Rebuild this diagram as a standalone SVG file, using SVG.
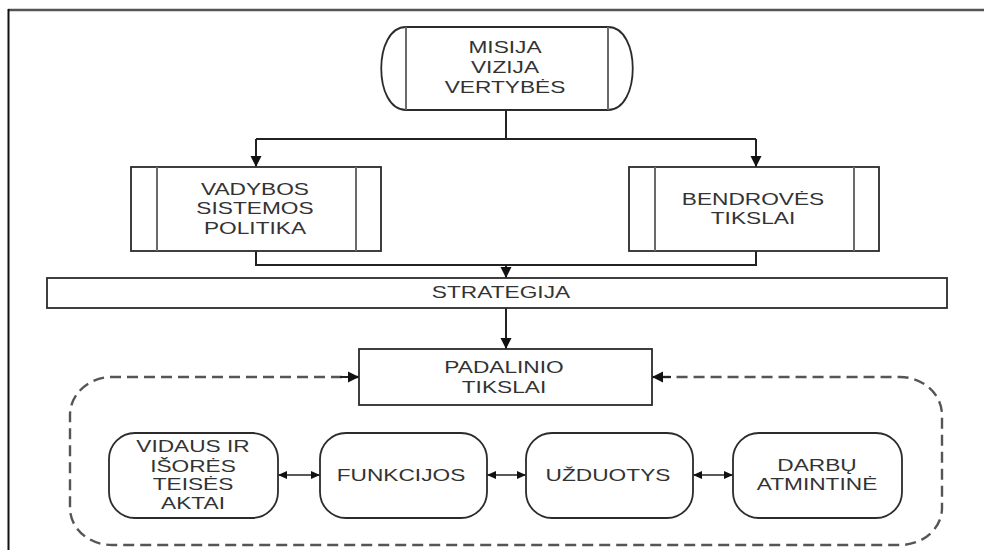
<svg xmlns="http://www.w3.org/2000/svg" width="984" height="550" viewBox="0 0 984 550">
  <style>
    .box { fill: #ffffff; stroke: #2b2b2b; stroke-width: 1.8; }
    .inner { stroke: #6a6a6a; stroke-width: 2; fill: none; }
    .lbl { font-family: "Liberation Sans", Arial, sans-serif; font-size: 16px; fill: #333333; text-anchor: middle; }
    .wire { fill: none; stroke: #222222; stroke-width: 2; }
    .dash { fill: none; stroke: #555555; stroke-width: 2.4; stroke-dasharray: 11 6; }
    .link { fill: none; stroke: #222222; stroke-width: 1.6; }
  </style>
  <defs>
    <marker id="arrow" markerUnits="userSpaceOnUse" markerWidth="12" markerHeight="12" viewBox="0 0 12 12" refX="11" refY="6" orient="auto">
      <path d="M0,0.5 L11,6 L0,11.5 Z" fill="#111111"/>
    </marker>
    <marker id="tip" markerUnits="userSpaceOnUse" markerWidth="10" markerHeight="10" viewBox="0 0 10 10" refX="9" refY="5" orient="auto-start-reverse">
      <path d="M0,1 L9,5 L0,9 Z" fill="#111111"/>
    </marker>
  </defs>

  <rect width="984" height="550" fill="#ffffff"/>

  <!-- page frame -->
  <g id="frame">
    <line x1="8" y1="10" x2="984" y2="10" stroke="#555555" stroke-width="2.5"/>
    <line x1="8.5" y1="9" x2="8.5" y2="550" stroke="#111111" stroke-width="2"/>
  </g>

  <!-- connectors -->
  <g id="connectors">
    <path class="wire" d="M506 110 V139"/>
    <path class="wire" d="M256 139 H756"/>
    <path class="wire" d="M256 139 V167" marker-end="url(#arrow)"/>
    <path class="wire" d="M756 139 V167" marker-end="url(#arrow)"/>
    <path class="wire" d="M256 251 V265 H756 V251"/>
    <path class="wire" d="M506 265 V278" marker-end="url(#arrow)"/>
    <path class="wire" d="M506 308 V349" marker-end="url(#arrow)"/>

    <!-- dashed boundary feeding the unit goals -->
    <path class="dash" d="M359 377 H112 A42 38 0 0 0 70 415 V508 A42 37 0 0 0 112 545 H900 A42 37 0 0 0 942 508 V415 A42 38 0 0 0 900 377 H652"/>
    <path class="wire" d="M340 377 H359" marker-end="url(#arrow)"/>
    <path class="wire" d="M671 377 H652" marker-end="url(#arrow)"/>

    <path class="link" d="M278 475 H320" marker-start="url(#tip)" marker-end="url(#tip)"/>
    <path class="link" d="M487 475 H526" marker-start="url(#tip)" marker-end="url(#tip)"/>
    <path class="link" d="M693 475 H733" marker-start="url(#tip)" marker-end="url(#tip)"/>
  </g>

  <g id="misija">
    <path class="box" d="M406 27 H608 C641 27 641 110 608 110 H406 C373 110 373 27 406 27 Z"/>
    <line class="inner" x1="406" y1="27" x2="406" y2="110"/>
    <line class="inner" x1="608" y1="27" x2="608" y2="110"/>
    <text class="lbl" transform="translate(505 53) scale(1.42 1)">MISIJA</text>
    <text class="lbl" transform="translate(505 73) scale(1.42 1)">VIZIJA</text>
    <text class="lbl" transform="translate(505 93) scale(1.42 1)">VERTYBĖS</text>
  </g>

  <g id="vadybos">
    <rect class="box" x="131" y="167" width="250" height="84"/>
    <line class="inner" x1="157" y1="167" x2="157" y2="251"/>
    <line class="inner" x1="356" y1="167" x2="356" y2="251"/>
    <text class="lbl" transform="translate(255 195) scale(1.42 1)">VADYBOS</text>
    <text class="lbl" transform="translate(255 214) scale(1.42 1)">SISTEMOS</text>
    <text class="lbl" transform="translate(255 234) scale(1.42 1)">POLITIKA</text>
  </g>

  <g id="bendroves">
    <rect class="box" x="629" y="167" width="250" height="84"/>
    <line class="inner" x1="655" y1="167" x2="655" y2="251"/>
    <line class="inner" x1="854" y1="167" x2="854" y2="251"/>
    <text class="lbl" transform="translate(753 205) scale(1.42 1)">BENDROVĖS</text>
    <text class="lbl" transform="translate(753 224) scale(1.42 1)">TIKSLAI</text>
  </g>

  <g id="strategija">
    <rect class="box" x="47" y="278" width="900" height="30"/>
    <text class="lbl" transform="translate(501 298) scale(1.42 1)">STRATEGIJA</text>
  </g>

  <g id="padalinio">
    <rect class="box" x="359" y="349" width="293" height="56"/>
    <text class="lbl" transform="translate(504 373) scale(1.42 1)">PADALINIO</text>
    <text class="lbl" transform="translate(504 393) scale(1.42 1)">TIKSLAI</text>
  </g>

  <g id="aktai">
    <rect class="box" x="109" y="433" width="169" height="85" rx="26"/>
    <text class="lbl" transform="translate(193 452) scale(1.42 1)">VIDAUS IR</text>
    <text class="lbl" transform="translate(193 472) scale(1.42 1)">IŠORĖS</text>
    <text class="lbl" transform="translate(193 490) scale(1.42 1)">TEISĖS</text>
    <text class="lbl" transform="translate(193 509) scale(1.42 1)">AKTAI</text>
  </g>

  <g id="funkcijos">
    <rect class="box" x="320" y="433" width="167" height="85" rx="26"/>
    <text class="lbl" transform="translate(401 481) scale(1.42 1)">FUNKCIJOS</text>
  </g>

  <g id="uzduotys">
    <rect class="box" x="526" y="433" width="167" height="85" rx="26"/>
    <text class="lbl" transform="translate(608 481) scale(1.42 1)">UŽDUOTYS</text>
  </g>

  <g id="darbu">
    <rect class="box" x="733" y="433" width="169" height="85" rx="26"/>
    <text class="lbl" transform="translate(817 471) scale(1.42 1)">DARBŲ</text>
    <text class="lbl" transform="translate(817 490) scale(1.42 1)">ATMINTINĖ</text>
  </g>
</svg>
